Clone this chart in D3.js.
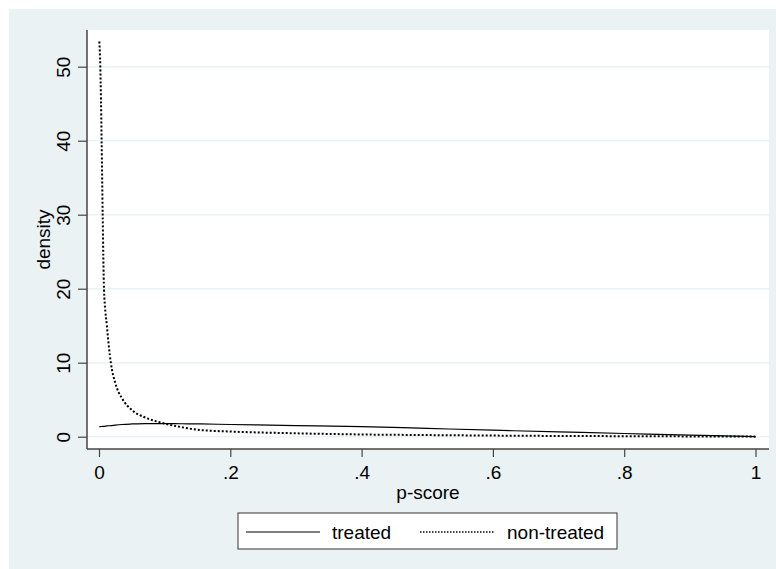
<!DOCTYPE html>
<html>
<head>
<meta charset="utf-8">
<script src="https://cdn.jsdelivr.net/npm/d3@7"></script>
<style>
  body { margin: 0; background: #fff; }
  svg { display: block; font-family: "Liberation Sans", Arial, sans-serif; }
</style>
</head>
<body>
<svg id="chart" width="776" height="569"></svg>
<script>
// p-score grid
const pScore = [0.0005, 0.002, 0.004, 0.0056, 0.0076, 0.012, 0.018, 0.025, 0.035, 0.05,
                0.07, 0.095, 0.125, 0.155, 0.2, 0.3, 0.4, 0.5, 0.6, 0.7, 0.8, 0.9, 1.0];
const treated = [1.35, 1.36, 1.38, 1.39, 1.4, 1.45, 1.5, 1.57, 1.65, 1.72,
                 1.78, 1.78, 1.75, 1.72, 1.65, 1.5, 1.37, 1.12, 0.88, 0.65, 0.43, 0.22, 0.02];
const nonTreated = [53.4, 50, 40, 30, 20, 15, 10, 7.2, 5.2, 3.6,
                    2.6, 1.9, 1.3, 0.9, 0.7, 0.46, 0.3, 0.22, 0.15, 0.1, 0.07, 0.04, 0.01];
const xTicks = [0, 0.2, 0.4, 0.6, 0.8, 1];
const xTickLabels = ["0", ".2", ".4", ".6", ".8", "1"];
const yTicks = [0, 10, 20, 30, 40, 50];
const seriesNames = ["treated", "non-treated"];

const svg = d3.select("#chart");
const bg = "#eaf2f3";
const axisColor = "#444";
const fontSize = 19;

// outer background
svg.append("rect").attr("x", 9).attr("y", 9).attr("width", 767).attr("height", 560).attr("fill", bg);

// plot region
const region = {left: 87, right: 769, top: 30, bottom: 449};
svg.append("rect")
    .attr("x", region.left).attr("y", region.top)
    .attr("width", region.right - region.left).attr("height", region.bottom - region.top)
    .attr("fill", "#fff");

const x = d3.scaleLinear().domain([0, 1]).range([99, 755.5]);
const y = d3.scaleLinear().domain([0, 50]).range([436.7, 66.7]);

// gridlines
svg.append("g").selectAll("line").data(yTicks).enter().append("line")
    .attr("x1", region.left).attr("x2", region.right)
    .attr("y1", d => y(d)).attr("y2", d => y(d))
    .attr("stroke", bg).attr("stroke-width", 1.5);

// y axis
const yAxis = svg.append("g")
    .attr("transform", `translate(${region.left},0)`)
    .call(d3.axisLeft(y).tickValues(yTicks).tickSize(9).tickSizeOuter(0).tickFormat(d3.format("d")));
yAxis.select(".domain").remove();
yAxis.selectAll(".tick line").attr("stroke", axisColor).attr("stroke-width", 1.2);
yAxis.selectAll(".tick text")
    .attr("x", null).attr("dy", null)
    .attr("transform", "translate(-17,0) rotate(-90)")
    .attr("text-anchor", "middle")
    .attr("font-size", fontSize).attr("fill", "#000");
svg.append("line")
    .attr("x1", region.left).attr("x2", region.left)
    .attr("y1", region.top).attr("y2", region.bottom)
    .attr("stroke", axisColor).attr("stroke-width", 1.5);

// x axis
const xAxis = svg.append("g")
    .attr("transform", `translate(0,${region.bottom})`)
    .call(d3.axisBottom(x).tickValues(xTicks).tickSize(8).tickFormat((d, i) => xTickLabels[i]));
xAxis.select(".domain").remove();
xAxis.selectAll(".tick line").attr("stroke", axisColor).attr("stroke-width", 1.2);
xAxis.selectAll(".tick text")
    .attr("y", 30).attr("dy", null)
    .attr("font-size", fontSize).attr("fill", "#000");
svg.append("line")
    .attr("x1", region.left).attr("x2", region.right)
    .attr("y1", region.bottom).attr("y2", region.bottom)
    .attr("stroke", axisColor).attr("stroke-width", 1.5);

// axis titles
svg.append("text")
    .attr("transform", `translate(50,${(region.top + region.bottom) / 2}) rotate(-90)`)
    .attr("text-anchor", "middle").attr("font-size", fontSize)
    .text("density");
svg.append("text")
    .attr("x", (region.left + region.right) / 2).attr("y", 499)
    .attr("text-anchor", "middle").attr("font-size", fontSize)
    .text("p-score");

// curves
const line = d3.line().curve(d3.curveMonotoneX);
const treatedPts = pScore.map((p, i) => [x(p), y(treated[i])]);
const nonTreatedPts = pScore.map((p, i) => [x(p), y(nonTreated[i])]);

svg.append("path").attr("d", line(treatedPts))
    .attr("fill", "none").attr("stroke", "#000").attr("stroke-width", 1.2);
svg.append("path").attr("d", line(nonTreatedPts))
    .attr("fill", "none").attr("stroke", "#000").attr("stroke-width", 2)
    .attr("stroke-dasharray", "2,2");

// legend
const legend = svg.append("g");
legend.append("rect")
    .attr("x", 238).attr("y", 513).attr("width", 379).attr("height", 36)
    .attr("fill", "#fff").attr("stroke", "#555").attr("stroke-width", 1.2);
const legendItems = [
    {name: seriesNames[0], x1: 246, x2: 320, tx: 332, dash: null, w: 1.2},
    {name: seriesNames[1], x1: 420, x2: 495, tx: 507, dash: "1.5,1.5", w: 1.5}
];
legendItems.forEach(it => {
    legend.append("line")
        .attr("x1", it.x1).attr("x2", it.x2).attr("y1", 532).attr("y2", 532)
        .attr("stroke", "#000").attr("stroke-width", it.w)
        .attr("stroke-dasharray", it.dash);
    legend.append("text")
        .attr("x", it.tx).attr("y", 539).attr("font-size", fontSize)
        .text(it.name);
});
</script>
</body>
</html>
